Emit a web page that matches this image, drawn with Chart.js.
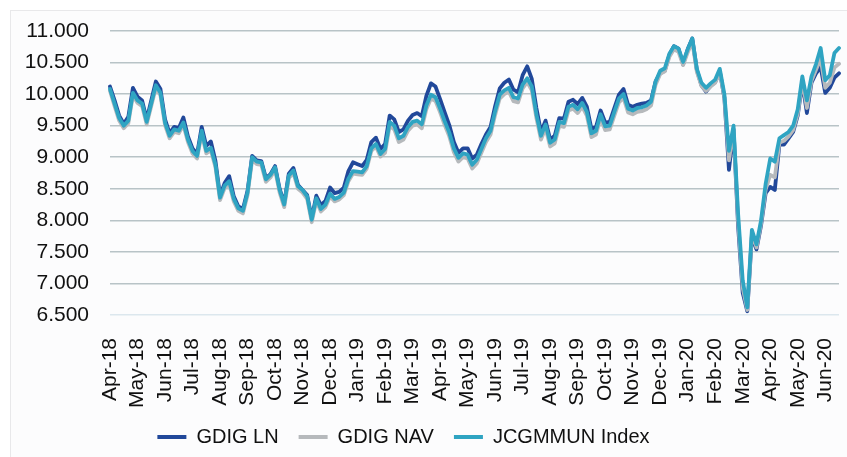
<!DOCTYPE html>
<html>
<head>
<meta charset="utf-8">
<script src="https://cdn.jsdelivr.net/npm/chart.js@4"></script>
<style>
  body { margin: 0; background: #fff; }
  #wrap { position: relative; width: 847px; height: 457px; }
  #panel { position: absolute; left: 10px; top: 10px; right: -2px; bottom: -2px; border: 1px solid #e8e8ea; background: #fcfcfd; }
  canvas { position: absolute; left: 0; top: 0; }
</style>
</head>
<body>
<div id="wrap">
  <div id="panel"></div>
  <canvas id="navChart" width="847" height="457"></canvas>
</div>
<script>
// month tick labels, 6 samples per month
const months = ["Apr-18","May-18","Jun-18","Jul-18","Aug-18","Sep-18","Oct-18","Nov-18","Dec-18",
  "Jan-19","Feb-19","Mar-19","Apr-19","May-19","Jun-19","Jul-19","Aug-19","Sep-19","Oct-19","Nov-19","Dec-19",
  "Jan-20","Feb-20","Mar-20","Apr-20","May-20","Jun-20"];
const perMonth = 6;

const gdigLN = [
  10120, 9900, 9660, 9530, 9640, 10100, 9960, 9900, 9600, 9900,
  10200, 10080, 9600, 9380, 9480, 9460, 9630, 9330, 9140, 9050,
  9480, 9180, 9250, 8940, 8390, 8590, 8700, 8380, 8220, 8180,
  8470, 9020, 8950, 8940, 8670, 8730, 8860, 8500, 8270, 8740,
  8830, 8560, 8480, 8400, 8030, 8390, 8240, 8310, 8520, 8430,
  8450, 8520, 8780, 8920, 8890, 8860, 8960, 9240, 9310, 9130,
  9210, 9660, 9600, 9400, 9440, 9580, 9670, 9700, 9650, 9970,
  10170, 10120, 9920, 9710, 9510, 9240, 9070, 9140, 9140, 8980,
  9040, 9210, 9360, 9480, 9810, 10090, 10180, 10230, 10070, 10030,
  10300, 10440, 10240, 9780, 9400, 9580, 9280, 9340, 9620, 9610,
  9880, 9910, 9840, 9940, 9800, 9450, 9480, 9740, 9550, 9560,
  9780, 9990, 10080, 9830, 9800, 9830, 9850, 9860, 9900, 10200,
  10330, 10370, 10620, 10760, 10720, 10470, 10710, 10880, 10380, 10140,
  10040, 10130, 10190, 10360, 9940, 8800, 9440, 7900, 6850, 6560,
  7750, 7540, 7920, 8430, 8530, 8480, 9200, 9200, 9300, 9400,
  9660, 10180, 9700, 10180, 10330, 10430, 10020, 10100, 10260, 10330
];

const gdigNAV = [
  10050, 9810, 9580, 9460, 9540, 9980, 9860, 9810, 9520, 9810,
  10100, 9980, 9510, 9300, 9400, 9380, 9510, 9240, 9060, 8980,
  9380, 9060, 9110, 8840, 8320, 8510, 8580, 8300, 8150, 8110,
  8400, 8960, 8890, 8880, 8610, 8680, 8800, 8440, 8210, 8670,
  8750, 8500, 8440, 8340, 7970, 8310, 8140, 8210, 8380, 8300,
  8330, 8400, 8620, 8740, 8730, 8720, 8820, 9100, 9170, 9010,
  9070, 9500, 9440, 9240, 9280, 9420, 9500, 9520, 9460, 9760,
  9930, 9890, 9710, 9510, 9330, 9080, 8930, 9000, 8980, 8820,
  8900, 9070, 9240, 9360, 9670, 9930, 10000, 10040, 9890, 9870,
  10090, 10190, 10060, 9620, 9280, 9460, 9170, 9220, 9500, 9480,
  9740, 9770, 9700, 9800, 9660, 9320, 9360, 9620, 9430, 9440,
  9660, 9870, 9940, 9710, 9680, 9720, 9730, 9760, 9820, 10150,
  10320, 10360, 10590, 10710, 10670, 10460, 10660, 10830, 10350, 10130,
  10050, 10120, 10180, 10350, 9950, 8950, 9450, 7990, 6930, 6580,
  7790, 7570, 7950, 8490, 8720, 8680, 9230, 9260, 9330, 9430,
  9690, 10210, 9780, 10210, 10390, 10560, 10100, 10180, 10420, 10480
];

const jcgmmun = [
  10080, 9850, 9620, 9500, 9580, 10020, 9900, 9850, 9560, 9850,
  10140, 10020, 9550, 9340, 9440, 9420, 9550, 9280, 9100, 9020,
  9420, 9100, 9150, 8880, 8360, 8550, 8620, 8340, 8190, 8150,
  8440, 9000, 8930, 8920, 8650, 8720, 8840, 8480, 8250, 8710,
  8790, 8540, 8480, 8380, 8010, 8350, 8180, 8250, 8420, 8340,
  8370, 8440, 8660, 8780, 8770, 8760, 8860, 9140, 9210, 9050,
  9130, 9560, 9500, 9300, 9340, 9480, 9560, 9580, 9520, 9820,
  9990, 9950, 9770, 9570, 9390, 9140, 8990, 9060, 9040, 8880,
  8960, 9130, 9300, 9420, 9730, 9990, 10060, 10100, 9950, 9930,
  10150, 10250, 10120, 9680, 9340, 9520, 9230, 9280, 9560, 9540,
  9800, 9830, 9760, 9860, 9720, 9380, 9420, 9680, 9490, 9500,
  9720, 9930, 10000, 9770, 9740, 9780, 9790, 9820, 9880, 10200,
  10370, 10410, 10640, 10760, 10720, 10510, 10710, 10880, 10400, 10180,
  10100, 10170, 10230, 10400, 10000, 9100, 9500, 8100, 7050, 6620,
  7850, 7620, 8000, 8580, 8980, 8930, 9300, 9350, 9400, 9500,
  9760, 10280, 9900, 10280, 10480, 10730, 10220, 10300, 10650, 10730
];

const yTicks = [6500, 7000, 7500, 8000, 8500, 9000, 9500, 10000, 10500, 11000];

const labels = [];
months.forEach(m => {
  for (let k = 0; k < perMonth; k++) labels.push(k === 0 ? m : "");
});
labels.length = jcgmmun.length;

const fmt = v => String(v).replace(/\B(?=(\d{3})+(?!\d))/g, ".");

// legend in the source sits a little left of centre
const legendShift = {
  id: "legendShift",
  afterLayout(chart) {
    chart.legend.left -= 21;
    chart.legend.right -= 21;
  }
};

const ctx = document.getElementById("navChart");

new Chart(ctx, {
  type: "line",
  data: {
    labels: labels,
    datasets: [
      { label: "GDIG LN", data: gdigLN, borderColor: "#21489a", backgroundColor: "#21489a", order: 3 },
      { label: "GDIG NAV", data: gdigNAV, borderColor: "#b6b9bc", backgroundColor: "#b6b9bc", order: 2 },
      { label: "JCGMMUN Index", data: jcgmmun, borderColor: "#2fa4c2", backgroundColor: "#2fa4c2", order: 1 }
    ]
  },
  options: {
    responsive: false,
    animation: false,
    elements: {
      point: { radius: 0 },
      line: { borderWidth: 3.8, tension: 0, borderJoinStyle: "round", borderCapStyle: "round" }
    },
    layout: { padding: { left: 10, right: 8, top: 31, bottom: 0 } },
    scales: {
      x: {
        grid: { display: false },
        border: { display: false },
        ticks: {
          autoSkip: false,
          minRotation: 90,
          maxRotation: 90,
          padding: 15,
          color: "#111",
          font: { family: "Liberation Sans, Arial, sans-serif", size: 21 },
          callback: function(val) { return this.getLabelForValue(val) || null; }
        },
        afterFit: axis => {
          axis.height = 92;
          axis.paddingLeft = 0;
          axis.paddingRight = 0;
        }
      },
      y: {
        min: 6500,
        max: 11000,
        border: { display: false },
        grid: {
          drawTicks: false,
          lineWidth: 1.5,
          color: c => (c.tick && c.tick.value === 6500) ? "#dce7ee" : "#b8c3c7"
        },
        afterBuildTicks: axis => { axis.ticks = yTicks.map(v => ({ value: v })); },
        ticks: {
          padding: 21,
          color: "#111",
          font: { family: "Liberation Sans, Arial, sans-serif", size: 21 },
          callback: v => fmt(v)
        },
        afterFit: axis => {
          axis.width = 100;
          axis.paddingTop = 0;
          axis.paddingBottom = 0;
        }
      }
    },
    plugins: {
      tooltip: { enabled: false },
      legend: {
        position: "bottom",
        labels: {
          color: "#111",
          font: { family: "Liberation Sans, Arial, sans-serif", size: 20 },
          boxWidth: 29,
          boxHeight: 4,
          padding: 20,
          sort: (a, b) => a.datasetIndex - b.datasetIndex,
          generateLabels: chart => {
            const items = Chart.defaults.plugins.legend.labels.generateLabels(chart);
            items.forEach(it => { it.lineWidth = 0; });
            return items;
          }
        }
      }
    }
  },
  plugins: [legendShift]
});
</script>
</body>
</html>
